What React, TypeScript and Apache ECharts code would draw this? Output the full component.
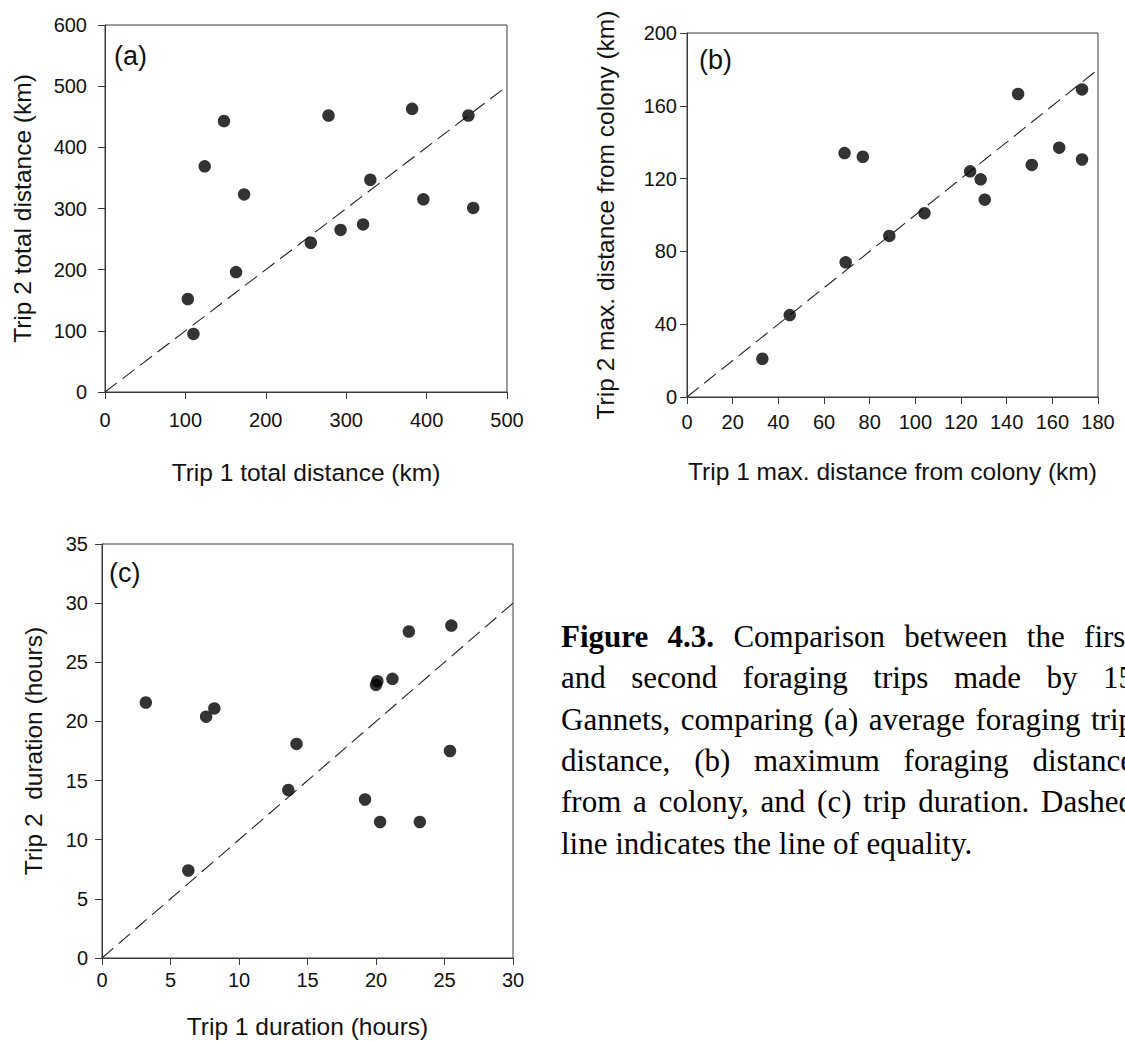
import React, { useEffect, useRef } from "react";
import * as echarts from "echarts";

// (a) average foraging trip distance, km
const totalTrip1 = [103, 110, 124, 148, 173, 163, 256, 278, 293, 321, 330, 382, 396, 452, 458];
const totalTrip2 = [152, 95, 369, 443, 323, 196, 244, 452, 265, 274, 347, 463, 315, 452, 301];

// (b) maximum distance from colony, km
const maxTrip1 = [33, 45, 69, 77, 69.5, 88.6, 104, 124, 128.6, 130.4, 145, 151, 163, 173, 173];
const maxTrip2 = [21, 45, 134, 132, 74, 88.5, 101, 124, 119.6, 108.4, 166.5, 127.5, 137, 169, 130.5];

// (c) trip duration, hours
const durTrip1 = [3.2, 6.3, 7.6, 8.2, 13.6, 14.2, 19.2, 20.0, 20.1, 20.3, 21.2, 22.4, 23.2, 25.4, 25.5];
const durTrip2 = [21.6, 7.4, 20.4, 21.1, 14.2, 18.1, 13.4, 23.1, 23.4, 11.5, 23.6, 27.6, 11.5, 17.5, 28.1];

// axis ranges [min, max, interval]
const rangeTotalX = [0, 500, 100];
const rangeTotalY = [0, 600, 100];
const rangeMaxX = [0, 180, 20];
const rangeMaxY = [0, 200, 40];
const rangeDurX = [0, 30, 5];
const rangeDurY = [0, 35, 5];

// line of equality end points
const equalityTotal = [0, 500];
const equalityMax = [0, 180];
const equalityDur = [0, 30];

const panelLetters = ["(a)", "(b)", "(c)"];
const axisNames = [
  ["Trip 1 total distance (km)", "Trip 2 total distance (km)"],
  ["Trip 1 max. distance from colony (km)", "Trip 2 max. distance from colony (km)"],
  ["Trip 1 duration (hours)", "Trip 2  duration (hours)"],
];

// caption, one entry per printed line; first two words are bold
const captionLines = [
  ["Figure", "4.3.", "Comparison", "between", "the", "first"],
  ["and", "second", "foraging", "trips", "made", "by", "15"],
  ["Gannets,", "comparing", "(a)", "average", "foraging", "trip"],
  ["distance,", "(b)", "maximum", "foraging", "distance"],
  ["from", "a", "colony,", "and", "(c)", "trip", "duration.", "Dashed"],
  ["line", "indicates", "the", "line", "of", "equality."],
];

const SANS = '"Liberation Sans", Arial, sans-serif';
const SERIF = '"Liberation Serif", "Times New Roman", serif';
const INK = "#111";
const FRAME = "#3a3a3a";

const grids = [
  { left: 105, top: 25, width: 402, height: 367 },
  { left: 687, top: 33, width: 411, height: 364 },
  { left: 102, top: 544, width: 411, height: 414 },
];

function valueAxis(
  gridIndex: number,
  range: number[],
  name: string,
  nameGap: number,
  labelMargin: number
) {
  return {
    type: "value",
    gridIndex,
    min: range[0],
    max: range[1],
    interval: range[2],
    name,
    nameLocation: "middle",
    nameGap,
    nameTextStyle: { fontSize: 24.5, fontFamily: SANS, color: INK },
    axisLine: { show: true, onZero: false, lineStyle: { color: FRAME, width: 1 } },
    axisTick: { show: true, inside: false, length: 7, lineStyle: { color: FRAME, width: 1 } },
    axisLabel: { fontSize: 20, fontFamily: SANS, color: INK, margin: labelMargin },
    splitLine: { show: false },
  };
}

function pairs(xs: number[], ys: number[]) {
  return xs.map((x, i) => [x, ys[i]]);
}

function scatter(idx: number, xs: number[], ys: number[]) {
  return {
    type: "scatter",
    xAxisIndex: idx,
    yAxisIndex: idx,
    data: pairs(xs, ys),
    symbol: "circle",
    symbolSize: 12.5,
    itemStyle: { color: "#000" },
    z: 3,
  };
}

function equalityLine(idx: number, ends: number[]) {
  return {
    type: "line",
    xAxisIndex: idx,
    yAxisIndex: idx,
    data: ends.map((v) => [v, v]),
    showSymbol: false,
    silent: true,
    lineStyle: { color: "#222", width: 1.1, type: [15, 7] },
    z: 2,
  };
}

// Justified caption block, laid out word by word
function captionGraphics() {
  const size = 31;
  const left = 561;
  const right = 1134;
  const top = 636.5;
  const lineHeight = 41.3;
  const canvas = document.createElement("canvas");
  const ctx = canvas.getContext("2d")!;
  const fontOf = (bold: boolean) => `${bold ? "bold " : ""}${size}px ${SERIF}`;
  const measure = (t: string, bold: boolean) => {
    ctx.font = fontOf(bold);
    return ctx.measureText(t).width;
  };
  const spaceW = measure(" ", false);
  const els: any[] = [];
  captionLines.forEach((words, li) => {
    const isBold = (wi: number) => li === 0 && wi < 2;
    const widths = words.map((w, wi) => measure(w, isBold(wi)));
    const total = widths.reduce((s, w) => s + w, 0);
    const last = li === captionLines.length - 1;
    const gap = last ? spaceW : (right - left - total) / (words.length - 1);
    let x = left;
    words.forEach((w, wi) => {
      els.push({
        type: "text",
        x,
        y: top + li * lineHeight,
        silent: true,
        style: {
          text: w,
          fontSize: size,
          fontFamily: SERIF,
          fontWeight: isBold(wi) ? "bold" : "normal",
          fill: "#000",
          textVerticalAlign: "middle",
        },
      });
      x += widths[wi] + gap;
    });
  });
  return els;
}

function panelLetter(text: string, x: number, y: number) {
  return {
    type: "text",
    x,
    y,
    silent: true,
    style: {
      text,
      fontSize: 27,
      fontFamily: SANS,
      fill: INK,
      textVerticalAlign: "middle",
    },
  };
}

function buildOption() {
  return {
    animation: false,
    backgroundColor: "#fff",
    grid: grids.map((g) => ({ ...g, show: true, borderColor: FRAME, borderWidth: 1, backgroundColor: "transparent" })),
    xAxis: [
      valueAxis(0, rangeTotalX, axisNames[0][0], 68, 18),
      valueAxis(1, rangeMaxX, axisNames[1][0], 62, 15),
      valueAxis(2, rangeDurX, axisNames[2][0], 56, 12),
    ],
    yAxis: [
      valueAxis(0, rangeTotalY, axisNames[0][1], 70, 18),
      valueAxis(1, rangeMaxY, axisNames[1][1], 69, 10),
      valueAxis(2, rangeDurY, axisNames[2][1], 56, 14),
    ],
    series: [
      equalityLine(0, equalityTotal),
      scatter(0, totalTrip1, totalTrip2),
      equalityLine(1, equalityMax),
      scatter(1, maxTrip1, maxTrip2),
      equalityLine(2, equalityDur),
      scatter(2, durTrip1, durTrip2),
    ],
    graphic: [
      panelLetter(panelLetters[0], 114, 56),
      panelLetter(panelLetters[1], 699, 60),
      panelLetter(panelLetters[2], 109, 573),
      ...captionGraphics(),
    ],
  };
}

export default function App() {
  const ref = useRef<HTMLDivElement>(null);
  useEffect(() => {
    if (!ref.current) return;
    const chart = echarts.init(ref.current, null, { renderer: "svg" });
    chart.setOption(buildOption() as any);
    return () => chart.dispose();
  }, []);
  return (
    <div
      ref={ref}
      style={{ position: "fixed", left: 0, top: 0, width: 1125, height: 1041, overflow: "hidden", background: "#fff" }}
    />
  );
}
